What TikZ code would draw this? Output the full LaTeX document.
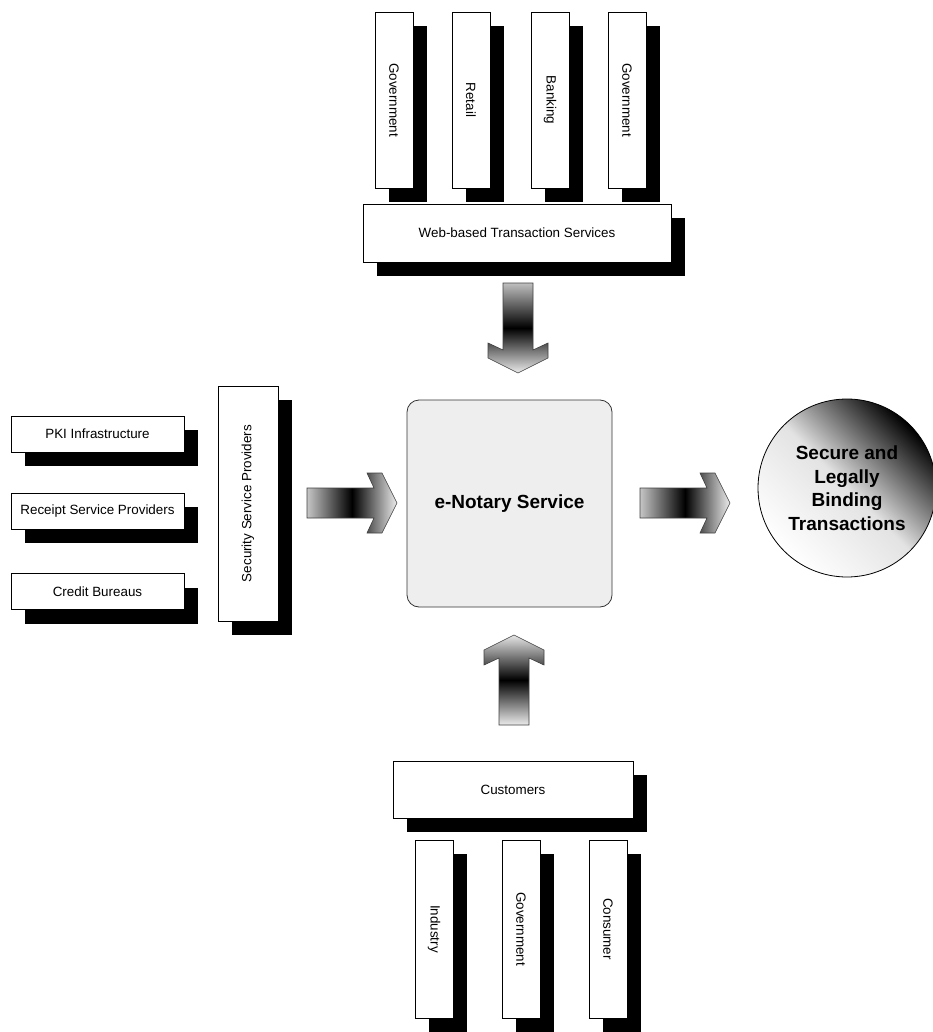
\documentclass[tikz,border=0pt]{standalone}
\usepackage{fontspec}
\setmainfont{Liberation Sans}
\usetikzlibrary{shadows}

% block arrows: #1 = tail coordinate name
\newcommand{\arrowright}[1]{%
  \shade[blockarrow, left color=gray!45, right color=gray!15, middle color=black]
    ([yshift=15pt]#1) -- ++(67,0) -- ++(-7,-15) -- ++(15,0) -- ++(15,30)
    -- ++(-15,30) -- ++(-15,0) -- ++(7,-15) -- ++(-67,0) -- cycle;}
\newcommand{\arrowdown}[1]{%
  \shade[blockarrow, top color=gray!50, bottom color=gray!15, middle color=black]
    ([xshift=-15pt]#1) -- ++(0,67) -- ++(-15,-7) -- ++(0,15) -- ++(30,15)
    -- ++(30,-15) -- ++(0,-15) -- ++(-15,7) -- ++(0,-67) -- cycle;}
\newcommand{\arrowup}[1]{%
  \shade[blockarrow, top color=gray!20, bottom color=gray!15, middle color=black]
    ([xshift=-15pt]#1) -- ++(0,-67) -- ++(-15,7) -- ++(0,-15) -- ++(30,-15)
    -- ++(30,15) -- ++(0,15) -- ++(-15,-7) -- ++(0,67) -- cycle;}

\begin{document}
\begin{tikzpicture}[x=1pt,y=-1pt,
  every node/.style={font=\fontsize{13.4}{15}\selectfont},
  box/.style={draw=black, line width=0.8pt, fill=white, inner sep=0pt,
    drop shadow={shadow xshift=14pt, shadow yshift=-14pt, fill=black, opacity=1}},
  tallbox/.style={box, minimum width=38pt, minimum height=176pt},
  widebox/.style={box, minimum width=173pt, minimum height=36pt},
  blockarrow/.style={draw=black!75, line width=0.6pt},
  bigtext/.style={font=\bfseries\fontsize{19}{23.5}\selectfont}
]
\useasboundingbox (0,0) rectangle (932,1032);

% transaction sectors on top
\node[tallbox] (govA) at (394,100) {\rotatebox{-90}{Government}};
\node[tallbox] (retail) at (471,100) {\rotatebox{-90}{Retail}};
\node[tallbox] (bank) at (550,100) {\rotatebox{-90}{Banking}};
\node[tallbox] (govB) at (627,100) {\rotatebox{-90}{Government}};
\node[box, minimum width=308pt, minimum height=58pt] (web) at (517,233)
  {Web-based Transaction Services};

% security providers on the left
\node[widebox] (pki) at (97.5,434) {PKI Infrastructure};
\node[widebox] (rcpt) at (97.5,511) {Receipt Service Providers};
\node[widebox] (credit) at (97.5,591.5) {Credit Bureaus};
\node[box, minimum width=60pt, minimum height=235pt] (ssp) at (248,503.5)
  {\rotatebox{90}{Security Service Providers}};

% central service
\node[draw=black!80, line width=0.8pt, fill=gray!13, rounded corners=12pt,
  minimum width=205pt, minimum height=207pt, bigtext] (notary) at (509.5,503.5)
  {e-Notary Service};

% outcome
\shade[draw=black, line width=0.8pt, top color=black, bottom color=white,
  middle color=gray!22, shading angle=-45] (847,488) circle (89pt);
\node[bigtext, align=center] (result) at (847,488)
  {Secure and\\Legally\\Binding\\Transactions};

% customers at the bottom
\node[box, minimum width=240pt, minimum height=57pt] (cust) at (513,789.5) {Customers};
\node[tallbox, minimum height=178pt] (ind) at (434,929) {\rotatebox{-90}{Industry}};
\node[tallbox, minimum height=178pt] (govC) at (521,929) {\rotatebox{-90}{Government}};
\node[tallbox, minimum height=178pt] (cons) at (608,929) {\rotatebox{-90}{Consumer}};

% arrow tails
\coordinate (tWeb) at (518,283);
\coordinate (tSec) at (307,503);
\coordinate (tOut) at (640,503);
\coordinate (tCust) at (514,725);

\arrowdown{tWeb}
\arrowright{tSec}
\arrowright{tOut}
\arrowup{tCust}
\end{tikzpicture}
\end{document}
